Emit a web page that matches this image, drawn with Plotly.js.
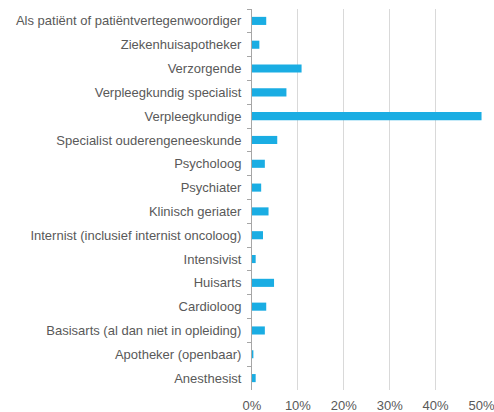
<!DOCTYPE html>
<html>
<head>
<meta charset="utf-8">
<script src="https://cdn.plot.ly/plotly-3.0.1.min.js"></script>
<style>html,body{margin:0;padding:0;background:#fff;}#chart{width:494px;height:412px;}</style>
</head>
<body>
<div id="chart"></div>
<script>
const categories = [
  "Als patiënt of patiëntvertegenwoordiger",
  "Ziekenhuisapotheker",
  "Verzorgende",
  "Verpleegkundig specialist",
  "Verpleegkundige",
  "Specialist ouderengeneeskunde",
  "Psycholoog",
  "Psychiater",
  "Klinisch geriater",
  "Internist (inclusief internist oncoloog)",
  "Intensivist",
  "Huisarts",
  "Cardioloog",
  "Basisarts (al dan niet in opleiding)",
  "Apotheker (openbaar)",
  "Anesthesist"
];
const values = [3.1, 1.6, 10.8, 7.5, 50.0, 5.5, 2.8, 2.0, 3.6, 2.4, 0.8, 4.8, 3.1, 2.8, 0.3, 0.8];
const xTicks = [0, 10, 20, 30, 40, 50];
const xTickLabels = ["0%", "10%", "20%", "30%", "40%", "50%"];

Plotly.newPlot('chart', [{
  type: 'bar',
  orientation: 'h',
  y: categories,
  x: values,
  marker: {color: '#1AADE3'},
  hoverinfo: 'none'
}], {
  width: 494, height: 412,
  margin: {l: 252, r: 12, t: 9, b: 22},
  paper_bgcolor: '#fff', plot_bgcolor: '#fff',
  bargap: 0.66,
  showlegend: false,
  font: {family: 'Liberation Sans, Arial, sans-serif', size: 13, color: '#595959'},
  xaxis: {
    range: [0, 50.1], tickmode: 'array', tickvals: xTicks, ticktext: xTickLabels,
    showgrid: true, gridcolor: '#d9d9d9', gridwidth: 1,
    zeroline: false, showline: false, ticks: '', fixedrange: true,
    ticklabelstandoff: 6, ticklabeloverflow: 'allow', automargin: false
  },
  yaxis: {
    type: 'category', autorange: 'reversed',
    showline: true, linecolor: '#a6a6a6', linewidth: 1,
    ticks: 'outside', tickson: 'boundaries', ticklen: 4, tickcolor: '#a6a6a6',
    showgrid: false, zeroline: false, fixedrange: true, ticklabelstandoff: 7
  }
}, {displayModeBar: false, staticPlot: true});
</script>
</body>
</html>
